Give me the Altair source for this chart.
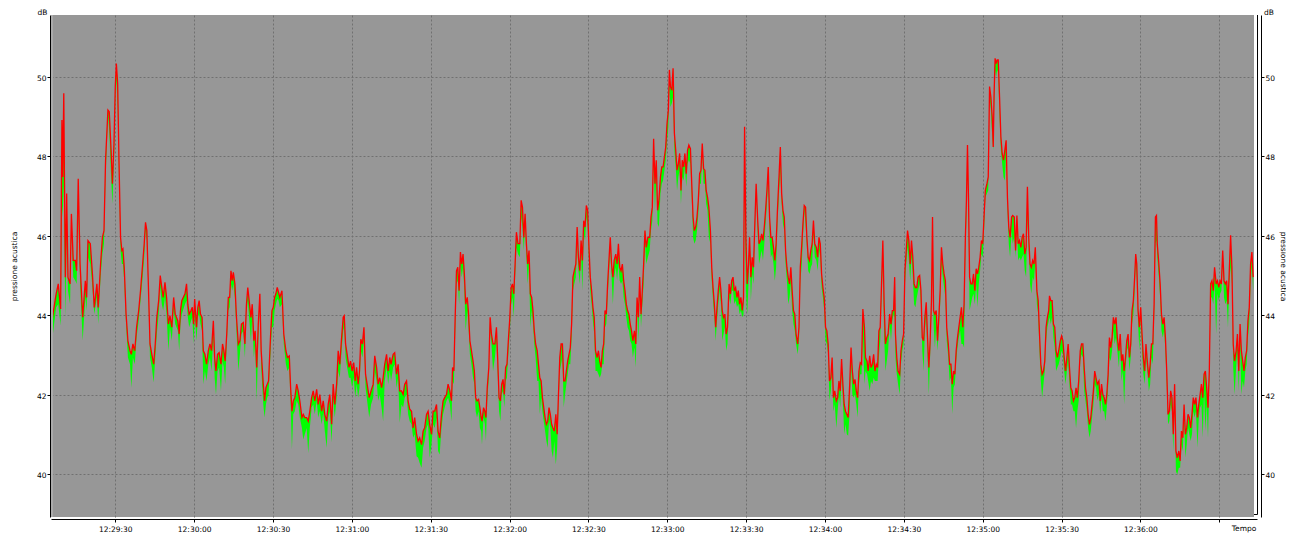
import altair as alt
import pandas as pd

# ---- data: time in seconds after 12:29:00, sound pressure in dB ----
T1 = [5.5, 5.8, 7.5, 8.3, 9.2, 9.7, 10.0, 10.4, 10.7, 11.0, 11.5, 12.0, 12.8, 13.3, 14.0, 14.8, 15.3, 15.9, 16.6, 17.6,
      18.6, 19.1, 19.6, 20.5, 21.3, 22.0, 23.0, 23.5, 24.4, 25.1, 25.7, 26.3, 27.2, 27.7, 28.4, 28.9, 29.5, 30.0, 30.4, 30.9,
      31.4, 32.0, 32.5, 32.9, 33.4, 34.1, 34.8, 35.6, 36.1, 36.7, 37.4, 38.1, 38.9, 39.6, 40.4, 41.0, 41.5, 42.0, 42.5, 43.2,
      43.9, 44.6, 45.2, 45.8, 46.5, 47.1, 47.7, 48.2, 48.9, 49.5, 50.2, 50.8, 51.5, 52.2, 52.8, 53.8, 54.3, 54.8, 55.3, 56.5,
      57.1, 57.6, 58.1, 58.8, 59.3, 59.8, 60.2, 60.9, 61.4, 61.9, 62.4, 63.0, 63.5, 64.1, 64.7, 65.4, 66.0, 66.6, 67.3, 67.8,
      68.3, 68.9, 69.5, 70.2, 70.8, 71.3, 71.8, 72.4, 73.0, 73.5, 74.0, 74.5, 74.9, 75.5, 76.1, 76.8, 77.4, 78.0, 78.7, 79.3,
      79.9, 80.4]
R1 = [43.75, 43.82, 44.54, 44.79, 44.16, 48.91, 47.48, 49.58, 47.14, 44.96, 47.06, 44.96, 44.79, 46.55, 45.38, 45.38, 45.12, 47.43, 45.29, 43.95,
      44.87, 44.45, 45.88, 45.80, 45.04, 44.20, 44.79, 44.20, 45.29, 45.96, 46.13, 47.90, 49.16, 49.12, 48.15, 47.31, 48.32, 49.75, 50.33, 49.83,
      47.90, 45.96, 45.63, 45.67, 45.21, 44.03, 43.36, 43.11, 43.02, 43.28, 43.11, 43.70, 44.12, 44.62, 45.29, 45.80, 46.34, 46.13, 44.96, 43.28,
      43.02, 42.77, 43.28, 43.95, 44.37, 45.00, 44.70, 44.45, 44.83, 44.45, 43.78, 43.99, 43.70, 44.45, 44.03, 43.86, 43.53, 44.12, 44.37, 44.54,
      44.79, 44.28, 44.03, 44.12, 44.20, 43.78, 44.41, 43.70, 44.20, 44.37, 44.03, 43.95, 43.11, 43.02, 42.77, 43.11, 43.28, 43.11, 43.86, 42.94,
      42.60, 43.02, 43.06, 42.77, 43.28, 43.11, 42.85, 43.53, 44.45, 44.45, 45.12, 44.87, 45.08, 44.79, 43.95, 43.28, 43.36, 43.78, 43.82, 43.28,
      44.28, 44.70]
G1 = [43.20, 43.28, 44.20, 44.28, 43.74, 46.80, 46.47, 47.31, 45.46, 43.95, 45.96, 44.62, 44.28, 46.13, 44.96, 44.87, 44.79, 46.64, 44.79, 43.36,
      44.45, 44.12, 45.46, 45.29, 44.70, 44.03, 44.45, 43.78, 44.96, 45.54, 45.80, 47.48, 48.99, 48.65, 47.48, 46.80, 47.90, 49.41, 49.91, 49.24,
      47.48, 45.63, 45.29, 45.29, 44.87, 43.78, 42.94, 42.77, 42.18, 42.94, 42.77, 43.44, 43.86, 44.37, 44.96, 45.46, 46.13, 45.88, 44.79, 42.94,
      42.69, 42.31, 42.94, 43.53, 44.03, 44.70, 44.28, 44.12, 44.45, 44.03, 43.11, 43.70, 43.36, 44.12, 43.78, 43.61, 43.11, 43.78, 44.03, 44.28,
      44.37, 43.95, 43.70, 43.86, 43.95, 43.28, 44.03, 43.36, 43.95, 44.03, 43.78, 43.61, 42.27, 42.60, 42.35, 42.77, 42.94, 42.60, 43.44, 42.43,
      42.01, 42.60, 42.69, 42.10, 42.85, 42.69, 42.27, 43.28, 44.12, 44.20, 44.79, 44.62, 44.79, 44.45, 43.61, 42.60, 43.02, 43.53, 43.61, 42.94,
      44.03, 44.37]

T2 = [81.6, 82.1, 82.7, 83.2, 83.8, 84.4, 85.0, 85.5, 86.3, 86.8, 87.3, 87.8, 88.3, 89.1, 89.6, 90.1, 90.6, 91.1, 91.6, 92.1,
      92.6, 93.4, 94.1, 94.9, 95.5, 96.2, 96.7, 97.2, 97.7, 98.3, 99.0, 99.6, 100.2, 101.0, 101.5, 102.1, 102.8, 103.4, 104.0, 104.7,
      105.3, 105.9, 106.6, 107.2, 107.8, 108.5, 109.1, 109.7, 110.4, 111.0, 111.6, 112.3, 112.9, 113.5, 114.2, 114.8, 115.4, 116.1, 116.7, 117.1,
      117.6, 118.2, 118.9, 119.5, 120.1, 120.7, 121.3, 121.8, 122.4, 122.9, 123.4, 124.0, 124.6, 125.2, 125.8, 126.6, 127.3, 128.1, 128.7, 129.4,
      130.0, 130.6, 131.3, 131.9, 132.5, 133.2, 133.8, 134.4, 134.9, 135.7, 136.3, 137.0, 137.6, 138.2, 138.9, 139.5, 140.1, 140.8, 141.4, 142.0,
      142.7, 143.3, 143.9, 144.6, 145.2, 145.8, 146.5, 147.1, 147.7, 148.4, 149.0, 149.6, 150.3, 150.9, 151.5, 152.2, 152.8, 153.4, 154.1, 154.7,
      155.3, 156.0, 156.6]
R2 = [43.95, 44.28, 43.36, 43.61, 42.69, 43.78, 44.54, 43.11, 42.27, 41.85, 42.18, 42.27, 42.35, 43.53, 44.12, 44.20, 44.45, 44.54, 44.70, 44.58,
      44.45, 44.62, 43.53, 43.11, 42.94, 42.98, 42.18, 41.59, 41.85, 41.93, 42.27, 42.10, 41.85, 41.43, 41.51, 41.43, 41.43, 41.34, 41.59, 41.93,
      42.10, 41.85, 42.14, 41.76, 42.01, 41.59, 41.85, 41.51, 41.34, 41.76, 42.01, 41.26, 42.27, 41.76, 42.27, 43.11, 42.77, 43.44, 43.95, 43.99,
      43.28, 43.02, 42.69, 42.85, 42.60, 42.81, 42.35, 42.69, 42.27, 42.60, 43.40, 43.28, 43.70, 42.52, 42.27, 41.93, 42.10, 42.27, 42.98, 42.69,
      42.27, 42.43, 42.18, 42.43, 42.77, 43.02, 42.60, 42.94, 42.77, 43.02, 43.06, 42.52, 42.77, 42.10, 42.10, 42.01, 42.27, 42.35, 41.85, 41.64,
      41.59, 41.17, 41.43, 41.01, 40.84, 40.92, 40.75, 41.09, 41.17, 41.51, 41.59, 41.26, 41.01, 41.59, 41.59, 41.76, 41.09, 40.92, 41.51, 41.85,
      41.93, 42.01, 42.27]
G2 = [43.36, 43.95, 42.94, 43.28, 41.85, 43.36, 44.28, 42.69, 41.76, 41.43, 41.76, 41.93, 42.01, 43.11, 43.70, 43.70, 44.12, 44.28, 44.41, 44.37,
      44.20, 44.28, 43.28, 42.77, 42.60, 42.69, 41.76, 40.63, 41.51, 41.59, 41.85, 41.76, 41.43, 41.17, 40.88, 41.01, 41.17, 40.54, 41.17, 41.68,
      41.76, 41.51, 41.85, 41.43, 41.59, 41.26, 41.55, 41.09, 40.67, 41.43, 41.59, 40.80, 41.85, 41.43, 41.93, 42.60, 42.43, 43.11, 43.61, 43.70,
      42.94, 42.69, 42.43, 42.43, 42.18, 42.43, 41.93, 42.27, 41.93, 42.18, 43.11, 42.94, 43.36, 42.18, 41.85, 41.43, 41.76, 41.93, 42.60, 42.35,
      41.85, 42.01, 41.68, 41.34, 42.35, 42.69, 42.27, 42.60, 42.35, 42.69, 42.77, 42.18, 42.43, 41.30, 41.76, 41.68, 41.93, 42.01, 41.51, 41.34,
      41.26, 40.92, 41.01, 40.46, 40.42, 40.29, 40.17, 40.67, 40.84, 41.17, 41.26, 40.42, 40.75, 41.26, 41.17, 41.43, 40.59, 40.50, 41.17, 41.51,
      41.68, 41.85, 41.93]

T3 = [157.3, 157.9, 158.3, 158.8, 159.3, 159.8, 160.3, 160.8, 161.3, 161.8, 162.3, 162.8, 163.3, 163.9, 164.4, 164.9, 165.5, 166.1, 166.6, 167.1,
      167.6, 168.2, 168.7, 169.2, 169.5, 170.1, 170.6, 171.0, 171.5, 172.1, 172.6, 173.1, 173.7, 174.4, 175.0, 175.5, 176.0, 176.5, 177.0, 177.5,
      178.0, 178.5, 179.0, 179.6, 180.1, 180.6, 181.1, 181.6, 182.1, 182.6, 183.2, 183.9, 184.4, 184.9, 185.4, 185.9, 186.4, 186.9, 187.4, 187.9,
      188.4, 188.9, 189.4, 189.9, 190.5, 191.0, 191.5, 192.0, 192.5, 193.0, 193.5, 194.0, 194.5, 195.0, 195.5, 196.0, 196.5, 197.0, 197.6, 198.1,
      198.6, 199.1, 199.6, 200.1, 200.6, 201.1, 201.6, 202.1, 202.6, 203.1, 203.6, 204.1, 204.6, 205.2, 205.7, 206.2, 206.7, 207.2, 207.7, 208.2,
      208.7, 209.2, 209.7, 210.2, 210.7, 211.2, 211.7, 212.2, 212.7, 213.3, 213.8, 214.3, 214.8, 215.3, 215.8, 216.3, 216.8, 217.3, 217.8, 218.3,
      218.8, 219.3, 219.8, 220.4, 220.9, 221.4, 221.9, 222.4, 222.9, 223.4, 223.9, 224.4, 224.9, 225.4, 225.9, 226.4, 226.9, 227.5, 228.0, 228.5,
      229.0, 229.5, 230.0, 230.5, 231.0, 231.5, 232.0, 232.6]
R3 = [42.10, 41.85, 42.69, 42.60, 43.95, 45.12, 45.21, 44.62, 45.59, 45.29, 45.54, 45.04, 44.28, 44.45, 44.03, 43.36, 43.11, 42.85, 42.60, 41.93,
      41.85, 41.89, 41.68, 41.43, 41.34, 41.68, 41.59, 41.43, 42.18, 42.69, 43.95, 43.53, 43.28, 43.28, 43.70, 42.85, 41.93, 41.85, 42.27, 42.39,
      42.01, 42.69, 42.77, 43.44, 43.95, 44.70, 44.79, 44.54, 45.29, 46.09, 45.80, 45.80, 46.89, 46.72, 45.96, 46.55, 45.80, 45.29, 45.63, 44.54,
      44.45, 44.12, 43.61, 43.28, 43.11, 42.77, 42.43, 42.35, 41.93, 41.68, 41.43, 41.26, 41.34, 41.68, 41.51, 41.26, 41.17, 41.09, 41.51, 41.01,
      42.01, 42.94, 43.28, 43.28, 42.35, 42.35, 42.60, 42.85, 43.02, 43.19, 43.78, 44.96, 45.12, 45.29, 46.22, 45.46, 45.12, 45.88, 45.38, 46.38,
      46.22, 46.76, 46.64, 45.71, 44.96, 44.62, 44.20, 43.95, 43.11, 42.94, 43.11, 42.85, 42.69, 43.11, 43.28, 44.12, 44.03, 44.79, 45.38, 45.96,
      45.29, 44.96, 45.38, 45.54, 45.29, 45.80, 45.21, 45.12, 45.29, 44.87, 44.62, 44.28, 44.12, 44.03, 43.78, 43.61, 43.36, 43.61, 43.28, 44.45,
      43.95, 44.96, 44.03, 44.62, 45.29, 46.13, 45.71, 45.96]
G3 = [41.76, 41.34, 42.35, 42.27, 43.53, 44.79, 44.87, 44.28, 45.29, 44.96, 45.21, 44.62, 43.61, 44.12, 43.70, 43.02, 42.77, 42.43, 42.27, 41.59,
      41.43, 41.59, 41.17, 41.09, 40.75, 41.43, 41.26, 40.84, 41.85, 42.43, 43.61, 43.28, 42.60, 42.94, 43.36, 42.52, 41.59, 41.34, 42.01, 42.10,
      41.68, 42.35, 42.43, 43.11, 43.61, 44.28, 44.45, 43.95, 44.96, 45.71, 45.54, 45.46, 46.47, 46.22, 45.63, 46.30, 45.46, 44.79, 45.29, 43.70,
      44.12, 43.78, 43.28, 42.94, 42.35, 42.35, 41.51, 41.93, 41.59, 41.34, 41.09, 40.84, 40.67, 41.34, 41.17, 40.59, 40.42, 40.84, 40.25, 40.67,
      41.68, 42.60, 42.77, 42.94, 41.68, 42.01, 42.27, 42.52, 42.77, 42.77, 43.44, 44.62, 44.79, 44.96, 45.80, 45.12, 44.79, 45.54, 44.62, 46.05,
      45.88, 46.47, 46.22, 45.38, 44.62, 44.28, 43.86, 43.53, 42.60, 42.60, 42.52, 42.43, 42.52, 42.77, 42.77, 43.70, 43.78, 44.45, 45.04, 45.63,
      44.96, 44.28, 44.96, 45.21, 44.87, 45.29, 44.87, 44.79, 44.87, 44.45, 44.28, 43.95, 43.70, 43.61, 43.36, 43.28, 42.94, 43.19, 42.69, 44.12,
      43.36, 44.62, 43.70, 44.28, 44.79, 45.80, 45.29, 45.46]

T4 = [233.3, 233.8, 234.3, 234.8, 235.3, 235.8, 236.3, 236.8, 237.4, 237.9, 238.4, 238.9, 239.4, 239.9, 240.4, 240.8, 241.2, 241.7, 242.2, 242.7,
      243.2, 243.7, 244.2, 244.7, 245.2, 245.7, 246.2, 246.7, 247.2, 247.7, 248.2, 248.8, 249.3, 249.8, 250.3, 250.8, 251.3, 251.8, 252.3, 252.8,
      253.3, 253.8, 254.3, 254.8, 255.3, 255.8, 256.4, 256.9, 257.4, 257.9, 258.4, 258.9, 259.4, 259.9, 260.4, 260.9, 261.4, 261.9, 262.4, 262.9,
      263.5, 264.0, 264.5, 265.0, 265.5, 266.0, 266.5, 267.0, 267.5, 268.0, 268.5, 269.0, 269.4, 269.9, 270.4, 270.9, 271.3, 271.8, 272.3, 272.8,
      273.3, 273.8, 274.4, 274.9, 275.4, 275.9, 276.4, 276.9, 277.4, 277.9, 278.4, 278.9, 279.4, 279.9, 280.4, 280.9, 281.4, 281.9, 282.5, 283.0,
      283.5, 284.0, 284.5, 285.0, 285.5, 286.0, 286.5, 287.0, 287.5, 288.0, 288.5, 289.0, 289.6, 290.1, 290.6, 291.1, 291.6, 292.1, 292.6, 293.1,
      293.6, 294.1, 294.6, 295.1, 295.6, 296.1, 296.7, 297.2, 297.7, 298.2, 298.7, 299.2, 299.7, 300.2, 300.7, 301.2, 301.7, 302.2, 302.7, 303.2,
      303.7, 304.3, 304.8, 305.3, 305.8, 306.3, 306.8, 307.3, 307.8, 308.3, 308.8]
R4 = [45.96, 46.47, 46.72, 48.44, 47.31, 47.90, 46.64, 46.89, 47.48, 47.73, 47.73, 47.98, 48.23, 48.82, 49.16, 50.17, 49.75, 49.66, 50.21, 48.57,
      48.15, 47.65, 47.81, 48.07, 47.14, 47.90, 47.73, 48.07, 47.56, 48.15, 48.28, 48.19, 47.31, 46.47, 46.13, 46.22, 46.47, 46.89, 47.56, 47.65,
      48.32, 47.69, 47.65, 47.14, 46.97, 46.72, 46.13, 45.21, 44.70, 44.28, 43.70, 44.20, 44.62, 44.96, 44.62, 44.12, 43.95, 44.03, 43.53, 43.70,
      44.79, 44.54, 44.87, 44.96, 44.62, 44.70, 44.45, 44.62, 44.28, 44.45, 44.12, 44.45, 48.74, 45.96, 44.79, 45.29, 45.96, 44.96, 45.46, 45.21,
      46.30, 47.31, 46.38, 45.80, 45.88, 46.05, 45.88, 46.22, 46.64, 47.14, 47.73, 46.47, 45.96, 45.96, 45.71, 45.38, 45.80, 46.64, 47.48, 48.23,
      47.06, 46.64, 46.47, 45.63, 45.21, 44.96, 44.79, 45.21, 44.62, 44.12, 44.03, 43.53, 43.28, 43.70, 45.21, 45.71, 46.30, 46.76, 46.72, 45.96,
      45.46, 45.38, 45.63, 45.80, 46.38, 45.80, 45.71, 45.46, 45.96, 45.80, 45.04, 44.70, 44.45, 43.70, 43.61, 43.28, 42.35, 42.43, 42.94, 41.93,
      42.10, 41.85, 41.93, 42.35, 42.10, 42.90, 42.27, 41.76, 41.59, 41.51, 41.43]
G4 = [45.63, 46.13, 46.38, 47.81, 46.64, 47.48, 46.30, 46.22, 47.06, 47.31, 47.39, 47.65, 47.90, 48.40, 48.74, 49.75, 49.24, 49.33, 49.49, 48.15,
      47.73, 47.14, 47.48, 47.65, 46.80, 47.48, 47.39, 47.73, 47.23, 47.81, 47.90, 47.81, 46.97, 45.96, 45.80, 45.88, 46.13, 46.55, 47.31, 47.31,
      48.07, 47.31, 47.31, 46.80, 46.64, 45.96, 45.80, 44.87, 44.37, 43.95, 43.36, 43.86, 44.28, 44.62, 44.28, 43.36, 43.53, 43.70, 43.11, 43.28,
      44.45, 44.28, 44.62, 44.62, 44.28, 44.37, 44.20, 44.28, 44.03, 44.12, 43.95, 44.03, 47.23, 44.62, 44.03, 44.79, 45.54, 44.37, 45.04, 44.79,
      45.96, 47.14, 46.05, 45.29, 45.46, 45.63, 45.38, 45.80, 46.30, 46.80, 47.48, 45.96, 45.46, 45.54, 45.29, 44.87, 45.21, 46.30, 47.06, 47.65,
      46.80, 46.30, 46.13, 45.29, 44.87, 44.28, 44.45, 44.79, 44.12, 43.78, 43.61, 43.28, 43.02, 43.36, 44.87, 45.21, 45.96, 46.64, 46.30, 45.71,
      45.12, 45.04, 45.21, 45.29, 46.05, 45.46, 45.38, 45.12, 45.63, 45.46, 44.70, 44.45, 44.12, 43.36, 43.28, 43.02, 41.85, 42.10, 42.60, 41.59,
      41.76, 41.17, 41.59, 42.01, 41.68, 42.52, 41.85, 41.01, 41.26, 41.01, 40.97]

T5 = [309.4, 309.9, 310.4, 310.9, 311.4, 311.9, 312.4, 312.9, 313.4, 313.9, 314.4, 315.0, 315.4, 316.0, 316.4, 317.0, 317.5, 318.0, 318.5, 319.0,
      319.5, 320.0, 320.5, 321.0, 321.5, 322.0, 322.5, 323.0, 323.5, 324.0, 324.6, 325.1, 325.6, 326.1, 326.5, 326.8, 327.3, 327.8, 328.4, 328.9,
      329.4, 329.9, 330.4, 330.9, 331.4, 331.9, 332.4, 332.9, 333.4, 333.9, 334.4, 334.9, 335.4, 336.0, 336.5, 337.0, 337.5, 338.0, 338.5, 339.0,
      339.5, 340.0, 340.5, 340.9, 341.3, 341.8, 342.3, 342.8, 343.3, 343.8, 344.3, 344.8, 345.3, 345.8, 346.3, 346.9, 347.4, 347.9, 348.4, 348.9,
      349.4, 349.9, 350.4, 350.9, 351.4, 351.9, 352.4, 352.9, 353.4, 353.8, 354.2, 354.6, 355.0, 355.5, 356.0, 356.5, 357.0, 357.5, 358.0, 358.5,
      359.0, 359.5, 360.0, 360.5, 361.0, 361.6, 362.1, 362.6, 363.1, 363.6, 364.0, 364.3, 364.7, 365.1, 365.5, 365.9, 366.4, 366.9, 367.4, 367.9,
      368.4, 368.9, 369.4, 369.9, 370.4, 371.0, 371.4, 372.0, 372.5, 373.0, 373.5, 374.0, 374.5, 375.0, 375.5, 376.0, 376.5, 377.0, 377.5, 378.0,
      378.5, 379.0, 379.5, 380.0, 380.6, 381.1, 381.6, 382.1, 382.6, 383.1, 383.6, 384.1, 384.6, 385.1]
R5 = [42.27, 43.19, 42.60, 42.27, 42.39, 42.10, 41.93, 42.60, 42.81, 42.77, 44.16, 43.70, 42.94, 42.85, 42.60, 42.98, 42.69, 42.77, 43.02, 42.60,
      42.77, 42.69, 43.61, 43.70, 44.79, 45.88, 44.28, 43.28, 43.44, 43.53, 44.03, 43.78, 44.12, 44.12, 44.96, 43.53, 42.94, 42.60, 42.52, 43.11,
      43.36, 43.53, 45.12, 45.63, 46.13, 45.88, 45.29, 45.88, 45.46, 44.79, 44.70, 44.70, 44.96, 45.00, 44.62, 43.44, 43.36, 43.95, 44.33, 43.44,
      42.69, 43.36, 44.37, 46.47, 44.12, 44.03, 44.12, 43.36, 43.95, 44.62, 45.71, 45.29, 45.04, 44.87, 43.70, 43.28, 42.77, 42.77, 42.27, 42.60,
      42.52, 43.11, 43.44, 43.70, 43.95, 44.20, 43.70, 44.28, 45.96, 46.89, 48.28, 46.89, 44.96, 44.79, 44.79, 45.04, 44.62, 45.17, 45.04, 45.21,
      45.46, 45.88, 45.80, 46.47, 47.14, 47.31, 47.48, 49.75, 49.49, 48.99, 48.23, 49.49, 50.46, 50.33, 50.42, 50.42, 49.49, 48.49, 48.07, 47.90,
      48.15, 48.40, 46.97, 46.22, 45.96, 46.47, 46.51, 46.47, 45.63, 46.51, 45.80, 45.88, 45.71, 45.96, 46.05, 45.54, 45.71, 47.23, 45.96, 45.29,
      45.21, 45.38, 45.29, 45.71, 44.62, 44.37, 43.53, 42.77, 42.52, 42.60, 42.85, 43.70, 43.95, 44.12]
G5 = [41.59, 42.77, 42.01, 41.93, 42.01, 41.76, 41.43, 42.27, 42.52, 42.52, 43.53, 42.27, 42.60, 42.52, 42.35, 42.10, 42.35, 42.27, 42.43, 42.35,
      42.35, 42.35, 42.94, 43.36, 44.45, 45.29, 43.44, 42.60, 42.85, 43.11, 43.78, 43.36, 43.86, 44.03, 43.95, 42.94, 42.52, 42.27, 42.01, 42.77,
      43.11, 43.28, 44.79, 45.29, 45.71, 45.38, 44.87, 45.46, 44.96, 44.28, 44.20, 44.45, 44.62, 44.79, 44.28, 43.11, 42.60, 43.61, 44.03, 42.94,
      42.01, 43.02, 44.12, 45.29, 43.78, 43.19, 43.70, 43.11, 43.61, 44.28, 45.29, 44.96, 44.70, 44.45, 43.36, 42.94, 42.35, 42.43, 41.51, 42.18,
      42.27, 42.85, 43.19, 43.44, 43.61, 43.28, 43.28, 43.19, 45.63, 46.47, 47.85, 46.47, 44.12, 44.28, 44.45, 44.54, 44.28, 44.79, 44.20, 44.79,
      45.12, 45.54, 45.46, 46.13, 46.97, 47.06, 47.14, 49.49, 49.16, 48.49, 48.15, 49.16, 50.17, 50.00, 50.17, 50.08, 48.99, 48.15, 47.81, 47.48,
      47.39, 48.07, 46.72, 45.80, 45.46, 46.13, 45.80, 45.96, 45.46, 46.13, 45.38, 45.46, 45.38, 45.46, 45.54, 45.12, 44.96, 46.47, 45.63, 44.79,
      44.54, 44.96, 44.87, 45.38, 44.28, 44.03, 43.11, 42.35, 41.93, 42.27, 42.60, 43.36, 43.70, 43.86]

T6 = [385.4, 385.9, 386.4, 386.9, 387.4, 387.9, 388.4, 388.9, 389.5, 390.0, 390.5, 391.0, 391.5, 392.0, 392.5, 393.0, 393.5, 394.0, 394.5, 395.0,
      395.5, 396.0, 396.5, 397.1, 397.6, 398.1, 398.6, 399.1, 399.6, 400.1, 400.6, 401.1, 401.6, 402.1, 402.6, 403.1, 403.6, 404.2, 404.7, 405.2,
      405.7, 406.2, 406.7, 407.2, 407.7, 408.2, 408.7, 409.2, 409.7, 410.2, 410.7, 411.2, 411.8, 412.3, 412.8, 413.3, 413.8, 414.3, 414.8, 415.3,
      415.8, 416.3, 416.8, 417.3, 417.8, 418.2, 418.6, 419.1, 419.6, 420.1, 420.6, 421.1, 421.6, 422.1, 422.6, 423.2, 423.7, 424.2, 424.7, 425.2,
      425.7, 426.1, 426.4, 427.0, 427.5, 428.0, 428.5, 429.0, 429.5, 430.0, 430.5, 431.0, 431.5, 432.0, 432.5, 433.0, 433.5, 434.0, 434.6, 435.1,
      435.6, 436.1, 436.6, 437.1, 437.6, 438.1, 438.6, 439.1, 439.6, 440.1, 440.6, 441.1, 441.7, 442.2, 442.7, 443.2, 443.7, 444.2, 444.7, 445.2,
      445.7, 446.2, 446.7, 447.2, 447.7, 448.2, 448.8, 449.3, 449.8, 450.3, 450.8, 451.3, 451.8, 452.3, 452.8, 453.3, 453.8, 454.3, 454.8, 455.3,
      455.8, 456.4, 456.9, 457.4, 457.9, 458.4, 458.9, 459.4, 459.9, 460.4, 460.9, 461.4, 461.9, 462.4, 462.9]
R6 = [44.49, 44.37, 44.37, 43.78, 43.70, 43.11, 42.94, 43.11, 43.36, 43.48, 43.36, 42.94, 42.60, 42.94, 43.28, 42.69, 42.18, 42.10, 41.85, 41.93,
      42.18, 41.93, 42.35, 43.11, 43.28, 43.28, 42.69, 42.18, 41.93, 41.51, 41.26, 41.43, 41.76, 42.10, 42.60, 42.43, 42.27, 42.35, 41.85, 42.27,
      42.01, 41.93, 41.76, 42.01, 42.52, 43.44, 43.19, 43.44, 43.95, 43.78, 43.95, 43.44, 43.11, 43.53, 42.85, 43.02, 42.60, 42.94, 43.36, 43.53,
      42.94, 43.28, 44.12, 44.37, 44.96, 45.54, 45.29, 44.12, 43.70, 44.20, 43.53, 42.94, 42.60, 43.28, 42.85, 42.43, 42.77, 43.28, 43.28, 44.28,
      46.47, 46.51, 45.80, 45.29, 44.79, 44.03, 43.78, 43.95, 43.44, 42.60, 41.51, 41.59, 42.10, 41.93, 41.01, 42.27, 40.59, 40.42, 40.59, 40.34,
      41.09, 40.92, 41.76, 41.01, 41.17, 41.51, 41.43, 41.17, 41.51, 41.93, 41.76, 41.93, 41.43, 41.76, 42.01, 42.27, 41.93, 42.52, 42.60, 42.18,
      41.68, 42.60, 44.79, 44.87, 44.62, 45.21, 44.79, 44.87, 44.70, 44.87, 44.79, 45.63, 44.87, 44.79, 44.87, 44.28, 45.12, 46.01, 45.21, 43.28,
      42.85, 43.11, 43.53, 42.60, 43.78, 43.11, 42.85, 42.60, 42.94, 43.11, 43.86, 44.20, 45.29, 45.59, 44.96]
G6 = [43.95, 43.78, 43.95, 43.44, 43.19, 42.60, 42.69, 42.77, 42.94, 43.11, 43.02, 42.60, 42.27, 42.60, 42.85, 42.27, 41.76, 41.76, 41.59, 41.59,
      41.17, 41.59, 41.85, 42.85, 43.02, 42.94, 42.10, 41.85, 41.59, 41.17, 40.92, 41.09, 41.43, 41.76, 42.27, 42.18, 41.85, 42.01, 41.51, 41.93,
      41.59, 41.59, 41.34, 41.68, 42.18, 42.94, 42.85, 43.11, 43.61, 43.28, 43.44, 43.11, 42.69, 43.28, 42.35, 42.60, 41.76, 42.60, 43.11, 43.19,
      42.60, 42.94, 43.78, 44.03, 44.62, 45.29, 44.96, 43.78, 43.11, 43.95, 43.11, 42.52, 42.27, 42.94, 42.60, 42.10, 42.27, 42.94, 42.77, 43.95,
      45.80, 45.88, 45.46, 44.96, 44.45, 43.61, 43.44, 43.61, 43.11, 42.27, 41.26, 41.34, 41.76, 41.59, 40.59, 41.76, 40.08, 40.00, 40.17, 40.17,
      40.75, 40.59, 41.43, 40.42, 40.75, 41.17, 41.01, 40.84, 41.01, 41.59, 41.43, 41.59, 40.67, 41.43, 41.68, 41.76, 40.92, 42.10, 41.09, 41.76,
      40.92, 42.27, 44.45, 44.45, 44.28, 44.79, 43.53, 44.54, 44.37, 44.54, 44.62, 45.29, 44.45, 44.28, 44.37, 43.70, 44.79, 45.21, 44.79, 42.69,
      42.01, 42.69, 43.11, 42.10, 43.28, 42.01, 42.35, 42.18, 42.60, 42.77, 43.44, 43.78, 44.79, 45.21, 44.62]

X_TICKS = [30, 60, 90, 120, 150, 180, 210, 240, 270, 300, 330, 360, 390, 420, 450]
Y_TICKS = [40, 42, 44, 46, 48, 50]
X_DOMAIN = [5.54, 463.2]
Y_DOMAIN = [38.93, 51.55]
Y_TITLE = "pressione acustica"
X_TITLE = "Tempo"
UNIT = "dB"

# ---- table ----
rows = []
for T, R, G in [(T1, R1, G1), (T2, R2, G2), (T3, R3, G3), (T4, R4, G4), (T5, R5, G5), (T6, R6, G6)]:
    n = min(len(T), len(R), len(G))
    for i in range(n):
        rows.append({"t": T[i], "rosso": R[i], "verde": G[i]})
df = pd.DataFrame(rows)

W, H = 1203, 502
FONT = "DejaVu Sans"
FS = 7.5
GRID = "#707070"

xscale = alt.Scale(domain=X_DOMAIN, nice=False, zero=False)
yscale = alt.Scale(domain=Y_DOMAIN, nice=False, zero=False)

label_expr = ("datum.value >= 450 ? '' : '12:' + (29 + floor(datum.value / 60)) + ':' + "
              "(datum.value % 60 == 0 ? '00' : '30')")

x_axis = alt.Axis(values=X_TICKS, labelExpr=label_expr, grid=True, gridColor=GRID, gridDash=[2, 2],
                  gridWidth=1, domainColor="black", domainWidth=1, tickColor="black", tickSize=3,
                  offset=2, labelFont=FONT, labelFontSize=FS, labelColor="black", labelPadding=3,
                  labelOverlap=False, labelFlush=False, title=X_TITLE, titleFont=FONT, titleFontSize=FS,
                  titleFontWeight="normal", titleColor="black", titleX=1192.5, titleY=9.5,
                  titleAlign="center", titleBaseline="middle")

x_enc = alt.X("t:Q", scale=xscale, axis=x_axis)

left_axis = alt.Axis(values=Y_TICKS, grid=True, gridColor=GRID, gridDash=[2, 2], gridWidth=1,
                     domainColor="black", domainWidth=1, tickColor="black", tickSize=3, offset=1,
                     labelFont=FONT, labelFontSize=FS, labelColor="black", labelPadding=1,
                     labelBaseline="middle", labelOffset=1.5,
                     title=Y_TITLE, titleFont=FONT, titleFontSize=FS, titleFontWeight="normal",
                     titleColor="black", titleAngle=-90, titleX=-36, titleY=H / 2,
                     titleAlign="center", titleBaseline="middle")

right_axis = alt.Axis(values=Y_TICKS, grid=False, orient="right",
                      domainColor="black", domainWidth=1, tickColor="black", tickSize=3, offset=7,
                      labelFont=FONT, labelFontSize=FS, labelColor="black", labelPadding=1,
                      labelBaseline="middle", labelOffset=1.5,
                      title=Y_TITLE, titleFont=FONT, titleFontSize=FS, titleFontWeight="normal",
                      titleColor="black", titleAngle=90, titleX=21, titleY=H / 2,
                      titleAlign="center", titleBaseline="middle")

band = alt.Chart(df).mark_area(color="#00ff00", opacity=1, clip=True).encode(
    x=x_enc,
    y=alt.Y("verde:Q", scale=yscale, axis=left_axis),
    y2="rosso:Q",
)

red = alt.Chart(df).mark_line(color="#ff0000", strokeWidth=1.3, clip=True).encode(
    x=x_enc,
    y=alt.Y("rosso:Q", scale=yscale, axis=right_axis),
)

unit_df = pd.DataFrame({"s": [UNIT]})
unit_left = alt.Chart(unit_df).mark_text(font=FONT, fontSize=FS, color="black", align="center",
                                          baseline="middle").encode(
    x=alt.value(-8.5), y=alt.value(-2), text="s:N")
unit_right = alt.Chart(unit_df).mark_text(font=FONT, fontSize=FS, color="black", align="center",
                                           baseline="middle").encode(
    x=alt.value(1218), y=alt.value(-2), text="s:N")

edge_left = alt.Chart(unit_df).mark_rule(color="#ababab", strokeWidth=2).encode(
    x=alt.value(1), y=alt.value(0), y2=alt.value(H))
frame_v = alt.Chart(unit_df).mark_rule(color="black", strokeWidth=1).encode(
    x=alt.value(1206.5), y=alt.value(0), y2=alt.value(499.5))
frame_h = alt.Chart(unit_df).mark_rule(color="black", strokeWidth=1).encode(
    x=alt.value(1203), x2=alt.value(1206.5), y=alt.value(499.5))
axis_ext = alt.Chart(unit_df).mark_rule(color="black", strokeWidth=1).encode(
    x=alt.value(1203), x2=alt.value(1206.5), y=alt.value(504.5))

chart = alt.layer(band, red, edge_left, unit_left, unit_right, frame_v, frame_h, axis_ext).resolve_scale(
    y="independent"
).properties(
    width=W, height=H, autosize="none",
    padding={"left": 43, "top": 7, "right": 32, "bottom": 16},
    background="white",
).configure_view(fill="#979797", strokeWidth=0)

chart.save("out.html", embed_options={"renderer": "svg", "actions": False})
